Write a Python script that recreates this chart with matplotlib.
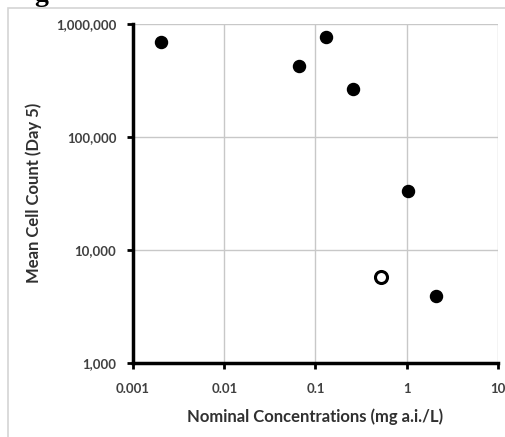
import matplotlib.pyplot as plt
from matplotlib.ticker import FuncFormatter
from matplotlib.patches import Rectangle

# data
conc = [0.002, 0.066, 0.13, 0.26, 1.04, 2.08]
cells = [690000, 425000, 755000, 262000, 33400, 3940]
open_conc = [0.52]
open_cells = [5820]

xticks = [0.001, 0.01, 0.1, 1, 10]
yticks = [1000, 10000, 100000, 1000000]

plt.rcParams['font.family'] = ['Lato', 'DejaVu Sans']

fig = plt.figure(figsize=(5.06, 4.37), dpi=100)
ax = fig.add_axes([0.263, 0.169, 0.721, 0.777])

# outer chart frame
fig.patches.append(Rectangle((8 / 506, -0.01), 1.0, 1 - 8 / 437 + 0.01,
                             transform=fig.transFigure, fill=False,
                             edgecolor='#d4d4d4', linewidth=1.2))
fig.text(0.068, 1.012, 'g', fontsize=20, fontweight='bold',
         family='Liberation Serif', ha='left', va='center')

ax.scatter(conc, cells, s=75, color='black', zorder=3)
ax.scatter(open_conc, open_cells, s=75, facecolor='white', edgecolor='black',
           linewidth=2.2, zorder=3)

ax.set_xscale('log')
ax.set_yscale('log')
ax.set_xlim(0.001, 10)
ax.set_ylim(1000, 1000000)
ax.set_xticks(xticks)
ax.set_yticks(yticks)
ax.minorticks_off()
ax.xaxis.set_major_formatter(FuncFormatter(lambda v, p: '{:g}'.format(v)))
ax.yaxis.set_major_formatter(FuncFormatter(lambda v, p: '{:,.0f}'.format(v)))

ax.grid(True, color='#c8c8c8', linewidth=1)
ax.set_axisbelow(True)
for s in ['top', 'right']:
    ax.spines[s].set_visible(False)
for s in ['left', 'bottom']:
    ax.spines[s].set_linewidth(2.5)
    ax.spines[s].set_color('black')

ax.tick_params(axis='both', length=4, width=2, color='black',
               labelsize=9.5, labelcolor='#404040')
ax.tick_params(axis='y', pad=8)
ax.tick_params(axis='x', pad=10)
for lab in ax.get_xticklabels() + ax.get_yticklabels():
    lab.set_fontweight('bold')

ax.set_xlabel('Nominal Concentrations (mg a.i./L)', fontsize=12,
              fontweight='bold', color='#303030', labelpad=10)
ax.set_ylabel('Mean Cell Count (Day 5)', fontsize=12,
              fontweight='bold', color='#303030', labelpad=10)

fig.savefig('out.png', dpi=100)
